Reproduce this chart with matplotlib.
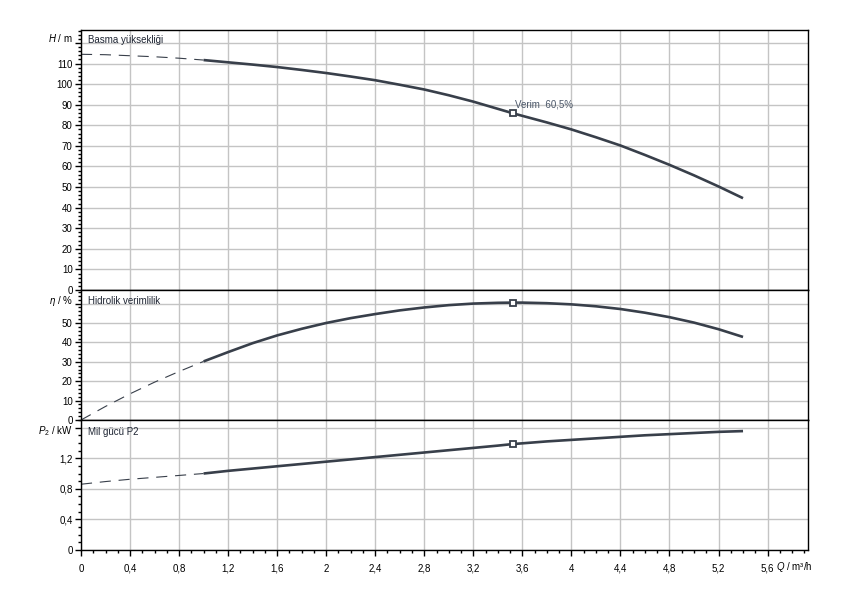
import matplotlib
matplotlib.use('Agg')
import matplotlib.pyplot as plt
from matplotlib.ticker import MultipleLocator, FuncFormatter

plt.rcParams['font.family'] = ['Liberation Sans', 'DejaVu Sans']
plt.rcParams['mathtext.fontset'] = 'custom'
plt.rcParams['mathtext.rm'] = 'Liberation Sans'
plt.rcParams['mathtext.it'] = 'Liberation Sans:italic'

# debi noktalari (m3/h); q <= 1.0 kesikli cizilir
q = [0, 0.2, 0.4, 0.6, 0.8, 1.0, 1.2, 1.4, 1.6, 1.8, 2.0, 2.2, 2.4, 2.6, 2.8,
     3.0, 3.2, 3.4, 3.52, 3.6, 3.8, 4.0, 4.2, 4.4, 4.6, 4.8, 5.0, 5.2, 5.4]
h = [114.5, 114.3, 113.8, 113.3, 112.6, 111.7, 110.6, 109.5, 108.3, 106.9, 105.4,
     103.7, 101.9, 99.7, 97.4, 94.6, 91.5, 88.0, 85.9, 84.6, 81.4, 78.0, 74.2,
     70.2, 65.6, 60.8, 55.7, 50.3, 44.6]
eta = [0, 7.0, 13.5, 19.5, 25.0, 30.2, 35.0, 39.6, 43.6, 47.0, 50.0, 52.5, 54.6,
       56.5, 58.0, 59.2, 60.0, 60.4, 60.5, 60.5, 60.2, 59.6, 58.6, 57.2, 55.3,
       53.0, 50.2, 46.8, 42.8]
p2 = [0.86, 0.895, 0.925, 0.95, 0.975, 1.0, 1.035, 1.065, 1.095, 1.125, 1.155,
      1.185, 1.215, 1.245, 1.275, 1.305, 1.335, 1.365, 1.385, 1.395, 1.42, 1.44,
      1.46, 1.48, 1.50, 1.515, 1.53, 1.545, 1.555]
n_dash = 6          # kesikli kisim q[0..5]
i_op = 18           # calisma noktasi (3,52 m3/h)
verim_text = 'Verim  60,5%'

col = '#383f4a'
gridc = '#c4c4c4'

fig = plt.figure(figsize=(8.5, 6), dpi=100)
left, width = 81 / 850, 727 / 850
ax1 = fig.add_axes([left, 1 - 290 / 600, width, 260 / 600])
ax2 = fig.add_axes([left, 1 - 420 / 600, width, 130 / 600])
ax3 = fig.add_axes([left, 1 - 550 / 600, width, 130 / 600])


def comma(v):
    s = ('%.1f' % v).rstrip('0').rstrip('.')
    return s.replace('.', ',')


panels = [
    (ax1, h, (0, 126.3), 10, 2, 120, r'$H$ / m', 3.6, 'Basma yüksekliği', 0.962),
    (ax2, eta, (0, 67), 10, 2, 60, r'$\eta$ / %', 1.5, 'Hidrolik verimlilik', 0.915),
    (ax3, p2, (0, 1.70), 0.4, 0.1, 1.6, r'$P_2$ / kW', -2.6, 'Mil gücü P2', 0.908),
]

for ax, y, ylim, major, minor, unit_pos, unit, dy, title, ty in panels:
    ax.plot(q[:n_dash], y[:n_dash], color=col, lw=0.8, dashes=(10, 7))
    ax.plot(q[n_dash - 1:], y[n_dash - 1:], color=col, lw=1.9, solid_capstyle='butt')
    ax.plot(q[i_op], y[i_op], marker='s', ms=5, mfc='white', mec=col, mew=1.3)
    ax.set_xlim(0, 5.93)
    ax.set_ylim(*ylim)
    ax.xaxis.set_major_locator(MultipleLocator(0.4))
    ax.xaxis.set_minor_locator(MultipleLocator(0.1))
    ax.yaxis.set_major_locator(MultipleLocator(major))
    ax.yaxis.set_minor_locator(MultipleLocator(minor))
    ax.yaxis.set_major_formatter(FuncFormatter(
        lambda v, pos, up=unit_pos: '' if abs(v - up) < 1e-6 else comma(v)))
    ax.grid(True, which='major', color=gridc, lw=1.0)
    ax.set_axisbelow(True)
    ax.tick_params(axis='y', which='major', length=4, width=1, labelsize=7, pad=2)
    ax.tick_params(axis='y', which='minor', length=2.2, width=1)
    for s in ax.spines.values():
        s.set_linewidth(1.0)
        s.set_color('black')
    ax.annotate(unit, xy=(0, unit_pos), xycoords=('axes fraction', 'data'),
                xytext=(-6, dy), textcoords='offset points', ha='right', va='center',
                fontsize=7)
    ax.text(0.0096, ty, title, transform=ax.transAxes, ha='left', va='center',
            fontsize=7, color='#1e2533')

for ax in (ax1, ax2):
    ax.tick_params(axis='x', which='both', bottom=False, labelbottom=False)

ax3.xaxis.set_major_formatter(FuncFormatter(lambda v, pos: comma(v)))
ax3.tick_params(axis='x', which='major', length=4, width=1, labelsize=7, pad=6)
ax3.tick_params(axis='x', which='minor', length=2.5, width=1)
ax3.annotate(r'$Q$ / m³/h', xy=(5.6, 0), xycoords=('data', 'axes fraction'),
             xytext=(6, -12.3), textcoords='offset points', ha='left', va='center',
             fontsize=7)

ax1.annotate(verim_text, xy=(q[i_op], h[i_op]), xytext=(1.5, 6),
             textcoords='offset points', ha='left', va='center',
             fontsize=7, color='#4a5668')

fig.savefig('out.png', dpi=100)
